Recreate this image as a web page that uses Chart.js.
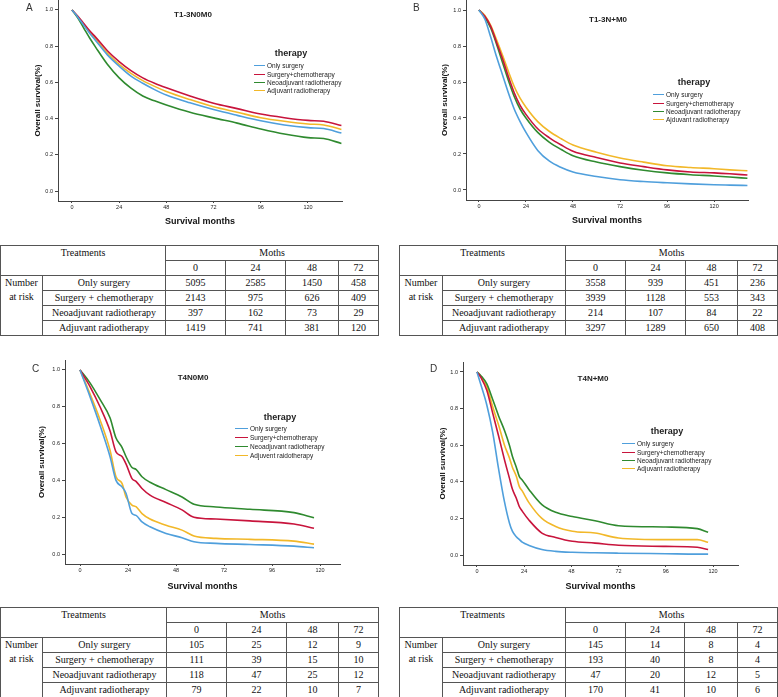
<!DOCTYPE html>
<html lang="en">
<head>
<meta charset="UTF-8" />
<title>Overall survival by therapy</title>
<script src="https://cdn.jsdelivr.net/npm/chart.js"></script>
<style>
  body { margin: 0; width: 778px; height: 697px; position: relative; overflow: hidden; background: #fff;
         font-family: "Liberation Sans", Arial, sans-serif; color: #222; }
  canvas { position: absolute; }
  .letter { position: absolute; font-size: 10px; line-height: 10px; color: #333; }
  .title { position: absolute; font-size: 8px; font-weight: bold; line-height: 8px; transform: translate(-50%, -50%); white-space: nowrap; }
  .lhead { position: absolute; font-size: 9px; font-weight: bold; line-height: 9px; transform: translate(-50%, -50%); }
  .legend { position: absolute; font-size: 6.5px; white-space: nowrap; }
  .legend div { display: flex; align-items: center; }
  .legend span.ln { display: inline-block; height: 0; border-top: 1.5px solid; margin-right: 2px; }
  table { position: absolute; border-collapse: collapse; table-layout: fixed; border: 1.5px solid #444;
          font-family: "Liberation Serif", "Times New Roman", serif; font-size: 10px; color: #111; }
  td { border: 1px solid #555; text-align: center; padding: 0; height: 14px; line-height: 14px; }
  td.top { vertical-align: top; }
</style>
</head>
<body>
<canvas id="chartA" width="330" height="235" style="left:20px;top:0px"></canvas>
<canvas id="chartB" width="330" height="235" style="left:428px;top:0px"></canvas>
<canvas id="chartC" width="330" height="240" style="left:27px;top:358px"></canvas>
<canvas id="chartD" width="330" height="240" style="left:425px;top:358px"></canvas>

<div class="letter" style="left:26px;top:3px">A</div>
<div class="letter" style="left:413px;top:3px">B</div>
<div class="letter" style="left:32px;top:364px">C</div>
<div class="letter" style="left:430px;top:364px">D</div>

<div id="overlays"></div>

<script>
  // months on the x axis and survival (proportion) for each therapy
  const xTicks = [0, 24, 48, 72, 96, 120];
  const yTicks = [0, 0.2, 0.4, 0.6, 0.8, 1.0];

  const monthsA = [0, 3, 6, 9, 12, 18, 24, 30, 36, 42, 48, 60, 72, 84, 96, 108, 120, 128, 137];
  const surgeryA = [1.0, 0.96, 0.915, 0.872, 0.832, 0.752, 0.69, 0.635, 0.595, 0.56, 0.53, 0.487, 0.45, 0.418, 0.388, 0.365, 0.35, 0.345, 0.32];
  const chemoA = [1.0, 0.965, 0.925, 0.885, 0.85, 0.775, 0.715, 0.665, 0.625, 0.595, 0.57, 0.525, 0.485, 0.455, 0.425, 0.405, 0.39, 0.385, 0.362];
  const neoA = [1.0, 0.955, 0.9, 0.845, 0.795, 0.7, 0.625, 0.568, 0.525, 0.498, 0.475, 0.435, 0.404, 0.375, 0.343, 0.315, 0.295, 0.29, 0.263];
  const adjA = [1.0, 0.962, 0.92, 0.878, 0.84, 0.762, 0.70, 0.65, 0.61, 0.578, 0.55, 0.505, 0.465, 0.435, 0.405, 0.385, 0.37, 0.365, 0.34];

  const monthsB = [0, 3, 6, 9, 12, 15, 18, 21, 24, 30, 36, 42, 48, 60, 72, 84, 96, 108, 120, 128, 137];
  const surgeryB = [1.0, 0.95, 0.85, 0.74, 0.64, 0.54, 0.45, 0.38, 0.32, 0.22, 0.16, 0.125, 0.10, 0.075, 0.057, 0.047, 0.04, 0.034, 0.029, 0.027, 0.025];
  const chemoB = [1.0, 0.965, 0.91, 0.82, 0.73, 0.63, 0.54, 0.47, 0.42, 0.34, 0.29, 0.25, 0.215, 0.18, 0.15, 0.13, 0.112, 0.10, 0.095, 0.09, 0.083];
  const neoB = [1.0, 0.96, 0.90, 0.81, 0.71, 0.61, 0.52, 0.45, 0.40, 0.32, 0.265, 0.225, 0.19, 0.155, 0.13, 0.11, 0.095, 0.085, 0.078, 0.072, 0.065];
  const adjB = [1.0, 0.97, 0.915, 0.835, 0.75, 0.66, 0.575, 0.51, 0.46, 0.38, 0.325, 0.285, 0.25, 0.21, 0.178, 0.155, 0.135, 0.125, 0.118, 0.112, 0.107];

  const monthsC = [0, 5, 10, 15, 18, 21, 23, 26, 28, 31, 35, 43, 51, 57, 68, 85, 107, 117];
  const surgeryC = [1.0, 0.855, 0.70, 0.53, 0.40, 0.365, 0.33, 0.22, 0.21, 0.175, 0.148, 0.112, 0.089, 0.067, 0.058, 0.052, 0.043, 0.034];
  const chemoC = [1.0, 0.91, 0.80, 0.67, 0.555, 0.53, 0.49, 0.41, 0.395, 0.356, 0.32, 0.28, 0.24, 0.20, 0.19, 0.18, 0.163, 0.14];
  const neoC = [1.0, 0.93, 0.84, 0.74, 0.63, 0.58, 0.53, 0.47, 0.46, 0.42, 0.39, 0.35, 0.31, 0.27, 0.256, 0.243, 0.225, 0.197];
  const adjC = [1.0, 0.87, 0.73, 0.565, 0.42, 0.384, 0.31, 0.266, 0.257, 0.22, 0.19, 0.157, 0.13, 0.098, 0.085, 0.08, 0.07, 0.054];

  const monthsD = [0, 2, 5, 8, 11, 14, 16.5, 18, 20, 21.5, 23, 26.5, 33, 40, 48.5, 60, 72, 96, 112, 117.5];
  const surgeryD = [1.0, 0.93, 0.82, 0.67, 0.47, 0.29, 0.175, 0.13, 0.10, 0.085, 0.07, 0.052, 0.03, 0.02, 0.015, 0.012, 0.01, 0.007, 0.005, 0.005];
  const chemoD = [1.0, 0.97, 0.90, 0.775, 0.65, 0.52, 0.42, 0.36, 0.31, 0.265, 0.24, 0.19, 0.12, 0.096, 0.075, 0.065, 0.053, 0.047, 0.042, 0.03];
  const neoD = [1.0, 0.98, 0.935, 0.85, 0.76, 0.68, 0.60, 0.54, 0.48, 0.43, 0.41, 0.357, 0.275, 0.233, 0.21, 0.187, 0.16, 0.153, 0.144, 0.124];
  const adjD = [1.0, 0.975, 0.92, 0.81, 0.71, 0.60, 0.53, 0.48, 0.43, 0.375, 0.35, 0.285, 0.20, 0.156, 0.13, 0.12, 0.093, 0.084, 0.084, 0.07];

  // legend names as printed in each panel (typos kept)
  const namesA = ["Only surgery", "Surgery+chemotherapy", "Neoadjuvant radiotherapy", "Adjuvant radiotherapy"];
  const namesB = ["Only surgery", "Surgery+chemotherapy", "Neoadjuvant radiotherapy", "Ajduvant radiotherapy"];
  const namesC = ["Only surgery", "Surgery+chemotherapy", "Neoadjuvant radiotherapy", "Adjuvent raidotherapy"];
  const namesD = ["Only surgery", "Surgery+chemotherapy", "Neoadjuvant radiotherapy", "Adjuvant radiotherapy"];

  // number at risk tables
  const treatments = ["Only surgery", "Surgery + chemotherapy", "Neoadjuvant radiotherapy", "Adjuvant radiotherapy"];
  const riskMonths = [0, 24, 48, 72];
  const riskA = [[5095, 2585, 1450, 458], [2143, 975, 626, 409], [397, 162, 73, 29], [1419, 741, 381, 120]];
  const riskB = [[3558, 939, 451, 236], [3939, 1128, 553, 343], [214, 107, 84, 22], [3297, 1289, 650, 408]];
  const riskC = [[105, 25, 12, 9], [111, 39, 15, 10], [118, 47, 25, 12], [79, 22, 10, 7]];
  const riskD = [[145, 14, 8, 4], [193, 40, 8, 4], [47, 20, 12, 5], [170, 41, 10, 6]];

  const lineColors = ["#4f9fdc", "#c8143c", "#2f8a2f", "#f2b829"];
  const font = "'Liberation Sans', Arial, sans-serif";

  function drawPanel(id, lay, months, series, names) {
    const datasets = series.map((vals, i) => ({
      label: names[i],
      data: months.map((m, j) => ({ x: m, y: vals[j] })),
      borderColor: lineColors[i],
      borderWidth: 1.6,
      pointRadius: 0,
      fill: false,
      cubicInterpolationMode: "monotone",
    }));
    new Chart(document.getElementById(id), {
      type: "line",
      data: { datasets },
      options: {
        responsive: false,
        animation: false,
        layout: { padding: { top: lay.padTop, right: lay.padRight, left: 0, bottom: 0 } },
        plugins: { legend: { display: false }, tooltip: { enabled: false } },
        scales: {
          x: {
            type: "linear",
            min: lay.xMin,
            max: lay.xMax,
            afterBuildTicks: (s) => { s.ticks = xTicks.map((v) => ({ value: v })); },
            afterFit: (s) => { s.height = lay.xAxisH; s.paddingLeft = 0; s.paddingRight = 0; },
            grid: { drawOnChartArea: false, tickLength: 2, color: "#444" },
            border: { color: "#444", width: 1 },
            ticks: { font: { size: 5.5, family: font }, color: "#222", padding: 1, maxRotation: 0 },
            title: {
              display: true,
              text: "Survival months",
              color: "#111",
              font: { size: 9, weight: "bold", family: font },
              padding: { top: 0, bottom: lay.xTitlePad },
            },
          },
          y: {
            min: lay.yMin,
            max: lay.yMax,
            afterBuildTicks: (s) => { s.ticks = yTicks.map((v) => ({ value: v })); },
            afterFit: (s) => { s.width = 38; s.paddingTop = 0; s.paddingBottom = 0; },
            grid: { drawOnChartArea: false, tickLength: 3, color: "#444" },
            border: { color: "#444", width: 1 },
            ticks: { font: { size: 5.5, family: font }, color: "#222", padding: 2, callback: (v) => v.toFixed(1) },
            title: {
              display: true,
              text: "Overall survival(%)",
              color: "#111",
              font: { size: 8, weight: "bold", family: font },
              padding: { top: lay.yTitlePad, bottom: 0 },
            },
          },
        },
      },
    });
  }

  drawPanel("chartA", { padTop: 0, padRight: 8, xAxisH: 34, xMin: -7.1, xMax: 137.3, yMin: -0.055, yMax: 1.055, xTitlePad: 7.6, yTitlePad: 13.2 },
    monthsA, [surgeryA, chemoA, neoA, adjA], namesA);
  drawPanel("chartB", { padTop: 0, padRight: 10, xAxisH: 35, xMin: -6.6, xMax: 137.3, yMin: -0.0556, yMax: 1.0556, xTitlePad: 8.6, yTitlePad: 12.2 },
    monthsB, [surgeryB, chemoB, neoB, adjB], namesB);
  drawPanel("chartC", { padTop: 2, padRight: 17, xAxisH: 34, xMin: -7.5, xMax: 130, yMin: -0.054, yMax: 1.054, xTitlePad: 5.6, yTitlePad: 10.2 },
    monthsC, [surgeryC, chemoC, neoC, adjC], namesC);
  drawPanel("chartD", { padTop: 4, padRight: 17, xAxisH: 33, xMin: -7.1, xMax: 132.7, yMin: -0.0546, yMax: 1.0546, xTitlePad: 5.6, yTitlePad: 13.2 },
    monthsD, [surgeryD, chemoD, neoD, adjD], namesD);

  // panel titles and in-plot legends
  const overlays = document.getElementById("overlays");
  function addTitle(text, x, y) {
    const d = document.createElement("div");
    d.className = "title";
    d.style.left = x + "px";
    d.style.top = y + "px";
    d.textContent = text;
    overlays.appendChild(d);
  }
  function addLegend(names, pos) {
    const h = document.createElement("div");
    h.className = "lhead";
    h.style.left = pos.headX + "px";
    h.style.top = pos.headY + "px";
    h.textContent = "therapy";
    overlays.appendChild(h);
    const box = document.createElement("div");
    box.className = "legend";
    box.style.left = pos.x + "px";
    box.style.top = pos.y - pos.rowH / 2 + "px";
    names.forEach((n, i) => {
      const row = document.createElement("div");
      row.style.height = pos.rowH + "px";
      row.innerHTML = `<span class="ln" style="width:${pos.lineW}px;border-color:${lineColors[i]}"></span>${n}`;
      box.appendChild(row);
    });
    overlays.appendChild(box);
  }
  addTitle("T1-3N0M0", 193, 15);
  addTitle("T1-3N+M0", 608, 20);
  addTitle("T4N0M0", 193, 378);
  addTitle("T4N+M0", 593, 379);
  addLegend(namesA, { headX: 291, headY: 53, x: 254, y: 66, rowH: 8.1, lineW: 11 });
  addLegend(namesB, { headX: 694, headY: 82, x: 653, y: 95, rowH: 8.1, lineW: 11 });
  addLegend(namesC, { headX: 280, headY: 417, x: 235, y: 429, rowH: 8.7, lineW: 13 });
  addLegend(namesD, { headX: 667, headY: 431, x: 622, y: 444, rowH: 8.3, lineW: 13 });

  // number-at-risk tables
  function addTable(risk, left, top, widths) {
    const t = document.createElement("table");
    t.style.left = left + "px";
    t.style.top = top + "px";
    t.style.width = widths.reduce((a, b) => a + b, 0) + "px";
    let html = "<colgroup>" + widths.map((w) => `<col style="width:${w}px">`).join("") + "</colgroup>";
    html += `<tr><td class="top" colspan="2" rowspan="2">Treatments</td><td colspan="4">Moths</td></tr>`;
    html += "<tr>" + riskMonths.map((m) => `<td>${m}</td>`).join("") + "</tr>";
    treatments.forEach((tr, i) => {
      html += "<tr>";
      if (i === 0) html += `<td class="top" rowspan="4">Number at risk</td>`;
      html += `<td>${tr}</td>` + risk[i].map((v) => `<td>${v}</td>`).join("") + "</tr>";
    });
    t.innerHTML = html;
    overlays.appendChild(t);
  }
  addTable(riskA, 0, 245, [42, 123, 60, 60, 53, 40]);
  addTable(riskB, 399, 245, [43, 123, 60, 60, 52, 40]);
  addTable(riskC, 0, 607, [42, 124, 60, 60, 52, 40]);
  addTable(riskD, 399, 607, [43, 123, 60, 59, 53, 40]);
</script>
</body>
</html>
